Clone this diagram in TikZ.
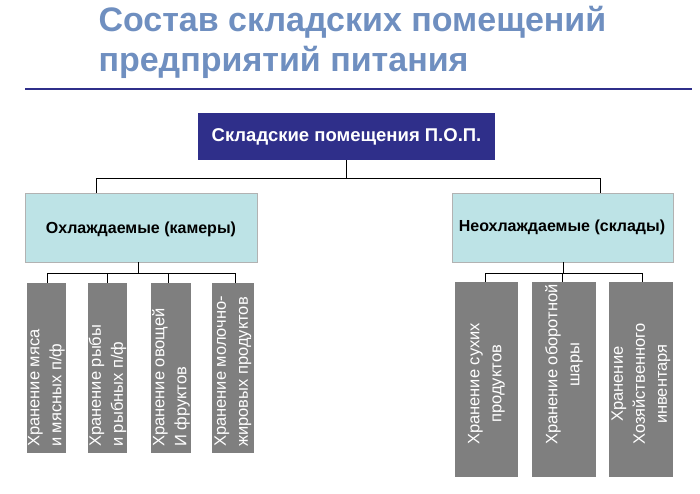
\documentclass[tikz,border=0pt]{standalone}
\usepackage{fontspec}
\setmainfont{Liberation Sans}
\definecolor{titleblue}{HTML}{6F8FC0}
\definecolor{navy}{HTML}{2F2F8A}
\definecolor{coolbox}{HTML}{BDE3E6}
\definecolor{storebox}{HTML}{7F7F7F}
\begin{document}
\begin{tikzpicture}[x=1pt,y=-1pt,
  group/.style={fill=coolbox, draw=gray!60},
  store/.style={fill=storebox},
  storetext/.style={rotate=90, anchor=west, text=white, font=\fontsize{16.5}{22}\selectfont, inner sep=0pt},
  link/.style={black, line width=0.8pt}]
%frame
\useasboundingbox (0,0) rectangle (700,493);
%title
\node[anchor=west, text=titleblue, font=\bfseries\fontsize{34}{36}\selectfont] (title1) at (95,22) {Состав складских помещений};
\node[anchor=west, text=titleblue, font=\bfseries\fontsize{34}{36}\selectfont] (title2) at (95,62) {предприятий питания};
\draw[navy, line width=1.5pt] (25,89) -- (692,89);

%boxes
\fill[navy] (198,113) rectangle (495,160);
\node[text=white, font=\bfseries\fontsize{18.5}{22}\selectfont] (pop) at (346.5,137) {Складские помещения П.О.П.};
\filldraw[group] (25,193) rectangle (257,262);
\node[font=\bfseries\fontsize{16}{20}\selectfont] (cool) at (141,229) {Охлаждаемые (камеры)};
\filldraw[group] (452,193) rectangle (673,262);
\node[font=\bfseries\fontsize{16}{20}\selectfont] (dry) at (562,227) {Неохлаждаемые (склады)};

%connectors
\draw[link] (346,160) -- (346,178) (96,178) -- (600,178) (96,178) -- (96,193) (600,178) -- (600,193);
\draw[link] (138,262) -- (138,273) (47,273) -- (235,273);
\foreach \x in {47,107,168,235} \draw[link] (\x,273) -- (\x,283);
\draw[link] (563,262) -- (563,273) (485,273) -- (642,273);
\foreach \x in {485,562,642} \draw[link] (\x,273) -- (\x,282);

%cold stores
\foreach \xa/\xb/\t in {27/66/{Хранение мяса\\и мясных п/ф},
                        88/127/{Хранение рыбы\\и рыбных п/ф},
                        151/191/{Хранение овощей\\И фруктов},
                        212/254/{Хранение молочно-\\жировых продуктов}}{
  \fill[store] (\xa,283) rectangle (\xb,453);
  \node[storetext, align=left] at ({(\xa+\xb)/2},447) {\t};
}
%dry stores
\foreach \xa/\xb/\t in {455/518/{Хранение сухих\\продуктов},
                        532/596/{Хранение оборотной\\шары},
                        609/673/{Хранение\\Хозяйственного\\инвентаря}}{
  \fill[store] (\xa,282) rectangle (\xb,477);
  \node[storetext, align=center] at ({(\xa+\xb)/2},445) {\t};
}
\end{tikzpicture}
\end{document}
